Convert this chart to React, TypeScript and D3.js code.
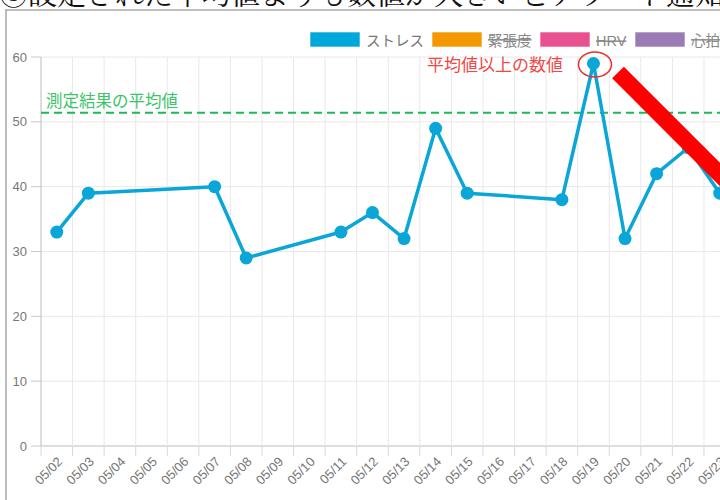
import React from "react";
import * as d3 from "d3";

const dates = ["05/02","05/03","05/04","05/05","05/06","05/07","05/08","05/09","05/10","05/11","05/12","05/13","05/14","05/15","05/16","05/17","05/18","05/19","05/20","05/21","05/22","05/23"];
const stress: (number | null)[] = [33,39,null,null,null,40,29,null,null,33,36,32,49,39,null,null,38,59,32,42,46,39];
const yTicks = [0,10,20,30,40,50,60];
const averageValue = 51.4;
const legendLabels = ["ストレス","緊張度","HRV","心拍"];
const legendColors = ["#00a7db","#f39800","#e8508f","#9b7bb5"];
const legendHidden = [false,true,true,true];
const titleText = "③設定された平均値よりも数値が大きいとアラート通知";
const averageLabel = "測定結果の平均値";
const alertLabel = "平均値以上の数値";
const alertIndex = 17;

const W = 720, H = 500;
const plotLeft = 41, plotTop = 57, plotBottom = 446;
const band = 31.57;

export default function App() {
  const x = d3.scaleBand<string>().domain(dates).range([plotLeft, plotLeft + band * dates.length]).padding(0);
  const y = d3.scaleLinear().domain([0, 60]).range([plotBottom, plotTop]);
  const cx = (d: string) => (x(d) as number) + x.bandwidth() / 2;
  const pts = dates.map((d, i) => ({ d, v: stress[i] })).filter(p => p.v !== null) as { d: string; v: number }[];
  const line = d3.line<{ d: string; v: number }>().x(p => cx(p.d)).y(p => y(p.v));
  const edges = dates.map(d => x(d) as number).concat([plotLeft + band * dates.length]);
  const sans = "'Liberation Sans', Arial, Helvetica, sans-serif";
  const jp = "'Noto Sans CJK JP', sans-serif";

  const legendX = [310, 432, 540, 635];
  const alertX = cx(dates[alertIndex]);
  const alertY = y(stress[alertIndex] as number);

  const ang = (45 * Math.PI) / 180;
  const sx = 618, sy = 72.5, len = 220, hw = 8.3;
  const dx = Math.cos(ang), dy = Math.sin(ang);
  const nx = -dy, ny = dx;
  const bar = [
    [sx + nx * hw, sy + ny * hw],
    [sx - nx * hw, sy - ny * hw],
    [sx - nx * hw + dx * len, sy - ny * hw + dy * len],
    [sx + nx * hw + dx * len, sy + ny * hw + dy * len],
  ].map(p => p.join(",")).join(" ");

  return (
    <svg width={W} height={H} style={{ position: "absolute", left: 0, top: 0, background: "#fff" }}>
      <rect x={0} y={0} width={W} height={H} fill="#fff" />
      <text x={-1} y={4.5} fontSize={29} fontFamily="'Noto Serif CJK JP', 'Noto Sans CJK JP', serif" fill="#111">{titleText}</text>
      <line x1={5} y1={10} x2={W} y2={10} stroke="#a8a8a8" strokeWidth={1.5} />
      <line x1={6} y1={10} x2={6} y2={H} stroke="#a8a8a8" strokeWidth={1.5} />

      {legendLabels.map((l, i) => (
        <g key={l}>
          <rect x={legendX[i]} y={32} width={50} height={15} fill={legendColors[i]} stroke="#ffffff" strokeOpacity={0.6} strokeWidth={1} />
          <text x={legendX[i] + 56} y={45.5} fontSize={14.5} fontFamily={i === 2 ? sans : jp} fill={legendHidden[i] ? "#888" : "#777"}
            textDecoration={legendHidden[i] ? "line-through" : undefined}>{l}</text>
        </g>
      ))}

      {yTicks.map(t => (
        <g key={t}>
          <line x1={plotLeft} x2={W} y1={y(t)} y2={y(t)} stroke={t === 0 ? "#bdbdbd" : "#e8e8e8"} strokeWidth={1} />
          <line x1={31} x2={plotLeft} y1={y(t)} y2={y(t)} stroke="#c8c8c8" />
          <text x={27} y={y(t)} dy="0.35em" textAnchor="end" fontSize={13} fontFamily={sans} fill="#777">{t}</text>
        </g>
      ))}
      {edges.map((e, i) => (
        <g key={i}>
          <line x1={e} x2={e} y1={plotTop} y2={plotBottom} stroke={i === 0 ? "#bdbdbd" : "#e8e8e8"} />
          <line x1={e} x2={e} y1={plotBottom} y2={456} stroke="#d8d8d8" />
        </g>
      ))}
      {dates.map(d => (
        <text key={d} transform={`translate(${cx(d) + 4},${460}) rotate(-45)`} textAnchor="end" dominantBaseline="middle"
          fontSize={13} fontFamily={sans} fill="#777">{d}</text>
      ))}

      <line x1={plotLeft} x2={W} y1={y(averageValue)} y2={y(averageValue)} stroke="#1db954" strokeWidth={2} strokeDasharray="8,5" />
      <text x={46} y={107} fontSize={16.5} fontFamily={jp} fill="#3cc46a">{averageLabel}</text>

      <path d={line(pts) || ""} fill="none" stroke="#0aa6d8" strokeWidth={3.5} strokeLinejoin="round" />
      {pts.map(p => (
        <circle key={p.d} cx={cx(p.d)} cy={y(p.v)} r={6.5} fill="#0aa6d8" />
      ))}

      <text x={427} y={71} fontSize={17} fontFamily={jp} fill="#f04848">{alertLabel}</text>
      <ellipse cx={alertX + 1.5} cy={alertY + 1} rx={16.5} ry={12.5} fill="none" stroke="#e83030" strokeWidth={1.5} />
      <polygon points={bar} fill="#ff0000" />
    </svg>
  );
}
